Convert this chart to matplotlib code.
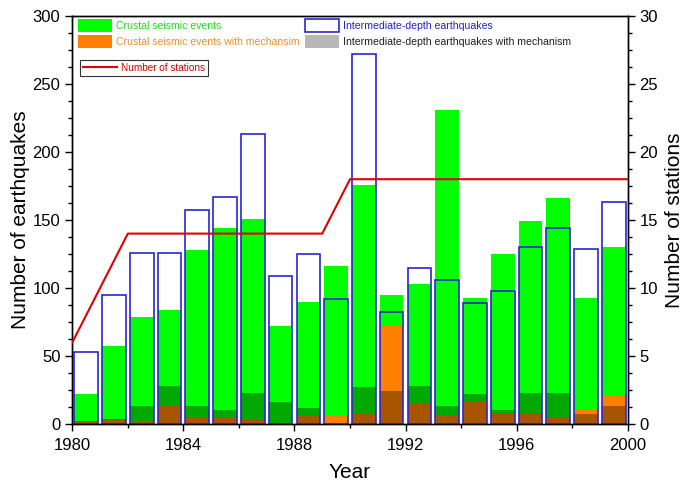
import matplotlib
matplotlib.use('Agg')
import matplotlib.pyplot as plt
from matplotlib.patches import Patch
from matplotlib.lines import Line2D
from matplotlib.ticker import MultipleLocator, AutoMinorLocator

plt.rcParams['font.family'] = ['Liberation Sans', 'DejaVu Sans']

# ---- data ----
years = list(range(1980, 2000))
crustal = [22, 57, 79, 84, 128, 144, 151, 72, 90, 116, 176, 95, 103, 231, 93, 125, 149, 166, 93, 130]
crustal_mech = [2, 4, 2, 13, 5, 5, 3, 0, 6, 6, 8, 73, 15, 6, 16, 8, 7, 5, 10, 21]
intermediate = [53, 95, 126, 126, 157, 167, 213, 109, 125, 92, 272, 82, 115, 106, 89, 98, 130, 144, 129, 163]
intermediate_mech = [2, 4, 13, 28, 13, 10, 23, 16, 12, 0, 27, 24, 28, 13, 22, 10, 23, 23, 7, 13]
station_years = list(range(1980, 2001))
stations = [6, 10, 14, 14, 14, 14, 14, 14, 14, 14, 18, 18, 18, 18, 18, 18, 18, 18, 18, 18, 18]

labels = ["Crustal seismic events", "Crustal seismic events with mechansim",
          "Intermediate-depth earthquakes", "Intermediate-depth earthquakes with mechanism",
          "Number of stations"]

W, H = 685, 486
fig = plt.figure(figsize=(W / 100, H / 100), dpi=100)
ax = fig.add_axes([72.3 / W, 1 - 424 / H, (627.7 - 72.3) / W, (424 - 16) / H])

green = '#00FF00'
orange = '#FF8000'
blue = '#2828D0'
overlay = (0, 0, 0, 0.34)
red = '#E00000'

xc = [y + 0.5 for y in years]
bw = 0.85
ax.bar(xc, crustal, width=bw, color=green, linewidth=0, zorder=1)
ax.bar(xc, crustal_mech, width=bw, color=orange, linewidth=0, zorder=2)
ax.bar(xc, intermediate_mech, width=bw, color=overlay, linewidth=0, zorder=3)
ax.bar(xc, intermediate, width=bw, facecolor='none', edgecolor=blue, linewidth=1.2, zorder=4)

ax.set_xlim(1980, 2000)
ax.set_ylim(0, 300)
ax.xaxis.set_major_locator(MultipleLocator(4))
ax.xaxis.set_minor_locator(MultipleLocator(2))
ax.yaxis.set_major_locator(MultipleLocator(50))
ax.yaxis.set_minor_locator(AutoMinorLocator(4))
ax.tick_params(which='both', direction='out', width=1.0, labelsize=12, top=False, right=False)
ax.tick_params(which='major', length=5)
ax.tick_params(which='minor', length=3)
ax.tick_params(axis='x', which='major', pad=5)
for s in ax.spines.values():
    s.set_linewidth(1.0)
ax.set_xlabel('Year', fontsize=15, labelpad=7)
ax.set_ylabel('Number of earthquakes', fontsize=15, labelpad=2)

ax2 = ax.twinx()
ax2.plot(station_years, stations, color=red, linewidth=1.5, zorder=5)
ax2.set_ylim(0, 30)
ax2.yaxis.set_major_locator(MultipleLocator(5))
ax2.yaxis.set_minor_locator(AutoMinorLocator(4))
ax2.tick_params(which='both', direction='out', width=1.0, labelsize=12)
ax2.tick_params(which='major', length=5)
ax2.tick_params(which='minor', length=3)
ax2.set_ylabel('Number of stations', fontsize=15, labelpad=5)
for s in ax2.spines.values():
    s.set_linewidth(1.0)

fs = 7.6
h1 = [Patch(facecolor=green, edgecolor='none'), Patch(facecolor=orange, edgecolor='none')]
h2 = [Patch(facecolor='white', edgecolor=blue, linewidth=1.2), Patch(facecolor='#B8B8B8', edgecolor='none')]
common = dict(loc='upper left', frameon=False, borderpad=0, borderaxespad=0,
              handlelength=3.2, handleheight=1.5, handletextpad=0.4, labelspacing=0.3,
              fontsize=fs, bbox_transform=fig.transFigure)
leg1 = ax2.legend(h1, labels[:2], bbox_to_anchor=(78 / W, 1 - 19 / H),
                  labelcolor=['#22DD22', '#E8922E'], **common)
ax2.add_artist(leg1)
leg2 = ax2.legend(h2, labels[2:4], bbox_to_anchor=(305 / W, 1 - 19 / H),
                  labelcolor=['#2222CC', '#202020'], **common)
ax2.add_artist(leg2)
leg3 = ax2.legend([Line2D([0], [0], color=red, linewidth=1.5)], [labels[4]],
                  loc='upper left', bbox_to_anchor=(80 / W, 1 - 60 / H), bbox_transform=fig.transFigure,
                  frameon=True, fancybox=False, edgecolor='black', borderpad=0.3, borderaxespad=0,
                  handlelength=3.4, handletextpad=0.4, fontsize=7.2, labelcolor=['#CC0000'])
leg3.get_frame().set_linewidth(0.8)

fig.savefig('out.png', dpi=100)
